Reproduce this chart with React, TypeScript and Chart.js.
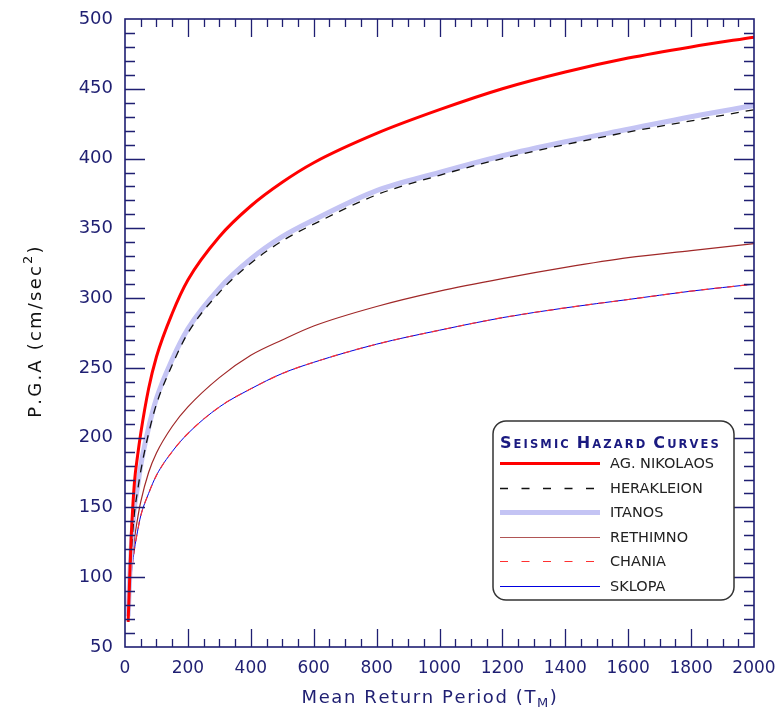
import React, { useEffect, useRef } from "react";
import { Chart, registerables } from "chart.js";

Chart.register(...registerables);

// ---- data ----
const returnPeriods = [10, 15, 20, 30, 40, 50, 75, 100, 150, 200, 300, 400, 500, 600, 800, 1000, 1200, 1400, 1600, 1800, 2000];
const agNikolaos = [68, 100, 130, 168, 187, 203, 235, 258, 289, 313, 344, 366, 383, 397, 418, 435, 450, 462, 472, 480, 487];
const herakleion = [68, 95, 118, 146, 162, 176, 203, 224, 252, 275, 304, 325, 341, 353, 374, 388, 400, 410, 419, 427, 435];
const itanos = [72, 100, 122, 150, 165, 180, 207, 228, 256, 278, 307, 328, 344, 356, 377, 390, 402, 412, 421, 430, 438];
const rethimno = [70, 90, 105, 127, 142, 154, 175, 189, 208, 222, 243, 259, 270, 280, 294, 305, 314, 322, 329, 334, 339];
const chania = [70, 88, 102, 120, 133, 144, 160, 173, 190, 203, 222, 235, 246, 254, 267, 277, 286, 293, 299, 305, 310];
const sklopa = [70, 88, 102, 120, 133, 144, 160, 173, 190, 203, 222, 235, 246, 254, 267, 277, 286, 293, 299, 305, 310];

const seriesNames = ["AG. NIKOLAOS", "HERAKLEION", "ITANOS", "RETHIMNO", "CHANIA", "SKLOPA"];
const legendTitle = "SEISMIC HAZARD CURVES";
const xTitle = "Mean Return Period (T";
const xTitleSub = "M";
const yTitle = "P.G.A (cm/sec";
const yTitleSup = "2";

const xMin = 0, xMax = 2000, xMajor = 200, xMinor = 50;
const yMin = 50, yMax = 500, yMajor = 50, yMinor = 10;

const NAVY = "#1f1f72";

const pts = (vals: number[]) => vals.map((v, i) => ({ x: returnPeriods[i], y: v }));

function spacedWidth(ctx: CanvasRenderingContext2D, text: string, sp: number) {
  let w = 0;
  for (const ch of text) w += ctx.measureText(ch).width + sp;
  return w;
}
function drawSpaced(ctx: CanvasRenderingContext2D, text: string, x: number, y: number, sp: number) {
  let cx = x;
  for (const ch of text) {
    ctx.fillText(ch, cx, y);
    cx += ctx.measureText(ch).width + sp;
  }
  return cx - x;
}

const framePlugin = {
  id: "frameTicks",
  afterDatasetsDraw(chart: any) {
    const { ctx, chartArea, scales } = chart;
    const { left, right, top, bottom } = chartArea;
    const x = scales.x, y = scales.y;
    ctx.save();
    ctx.strokeStyle = NAVY;
    ctx.lineWidth = 1.6;
    ctx.strokeRect(left, top, right - left, bottom - top);
    ctx.lineWidth = 1.3;
    ctx.beginPath();
    for (let v = xMin + xMinor; v < xMax; v += xMinor) {
      const px = Math.round(x.getPixelForValue(v)) + 0.5;
      const len = v % xMajor === 0 ? 18 : 8;
      ctx.moveTo(px, bottom); ctx.lineTo(px, bottom - len);
      ctx.moveTo(px, top); ctx.lineTo(px, top + len);
    }
    for (let v = yMin + yMinor; v < yMax; v += yMinor) {
      const py = Math.round(y.getPixelForValue(v)) + 0.5;
      const len = v % yMajor === 0 ? 20 : 10;
      ctx.moveTo(left, py); ctx.lineTo(left + len, py);
      ctx.moveTo(right, py); ctx.lineTo(right - len, py);
    }
    ctx.stroke();

    // x title
    ctx.fillStyle = NAVY;
    ctx.textBaseline = "alphabetic";
    ctx.textAlign = "left";
    const sp = 1.6;
    ctx.font = "18px 'DejaVu Sans'";
    const mainW = spacedWidth(ctx, xTitle, sp);
    const parW = spacedWidth(ctx, ")", sp);
    ctx.font = "13px 'DejaVu Sans'";
    const subW = spacedWidth(ctx, xTitleSub, sp);
    const total = mainW + subW + parW;
    let tx = 430 - total / 2;
    const ty = 703;
    ctx.font = "18px 'DejaVu Sans'";
    tx += drawSpaced(ctx, xTitle, tx, ty, sp);
    ctx.font = "13px 'DejaVu Sans'";
    tx += drawSpaced(ctx, xTitleSub, tx, ty + 4, sp);
    ctx.font = "18px 'DejaVu Sans'";
    drawSpaced(ctx, ")", tx, ty, sp);

    // y title
    ctx.save();
    ctx.translate(41, 331);
    ctx.rotate(-Math.PI / 2);
    ctx.fillStyle = "#111";
    const ysp = 2.2;
    ctx.font = "18px 'DejaVu Sans'";
    const yw = spacedWidth(ctx, yTitle, ysp);
    const pw = spacedWidth(ctx, ")", ysp);
    ctx.font = "13px 'DejaVu Sans'";
    const sw = spacedWidth(ctx, yTitleSup, ysp);
    let ly = -(yw + sw + pw) / 2;
    ctx.font = "18px 'DejaVu Sans'";
    ly += drawSpaced(ctx, yTitle, ly, 0, ysp);
    ctx.font = "13px 'DejaVu Sans'";
    ly += drawSpaced(ctx, yTitleSup, ly, -9, ysp);
    ctx.font = "18px 'DejaVu Sans'";
    drawSpaced(ctx, ")", ly, 0, ysp);
    ctx.restore();
    ctx.restore();
  },
};

const legendPlugin = {
  id: "hazardLegend",
  afterDraw(chart: any) {
    const ctx = chart.ctx;
    ctx.save();
    const bx = 493, by = 421, bw = 241, bh = 179, r = 13;
    ctx.beginPath();
    ctx.moveTo(bx + r, by);
    ctx.arcTo(bx + bw, by, bx + bw, by + bh, r);
    ctx.arcTo(bx + bw, by + bh, bx, by + bh, r);
    ctx.arcTo(bx, by + bh, bx, by, r);
    ctx.arcTo(bx, by, bx + bw, by, r);
    ctx.closePath();
    ctx.fillStyle = "#ffffff";
    ctx.fill();
    ctx.strokeStyle = "#333333";
    ctx.lineWidth = 1.5;
    ctx.stroke();

    // title with small caps
    ctx.fillStyle = "#1a1a80";
    ctx.textBaseline = "alphabetic";
    ctx.textAlign = "left";
    let tx = 500;
    const ty = 448;
    const words = legendTitle.split(" ");
    words.forEach((w, wi) => {
      for (let k = 0; k < w.length; k++) {
        const big = k === 0;
        ctx.font = big ? "bold 16px 'DejaVu Sans'" : "bold 11.5px 'DejaVu Sans'";
        ctx.fillText(w[k], tx, ty);
        tx += ctx.measureText(w[k]).width + 2.1;
      }
      if (wi < words.length - 1) tx += 6;
    });

    // entries
    chart.data.datasets.forEach((ds: any, i: number) => {
      const yy = Math.round(463 + i * 24.6) + 0.5;
      ctx.beginPath();
      ctx.strokeStyle = ds.legendColor || ds.borderColor;
      ctx.lineWidth = ds.borderWidth;
      ctx.setLineDash(ds.borderDash && ds.borderDash.length ? [8, 13.5] : []);
      ctx.moveTo(500, yy);
      ctx.lineTo(600, yy);
      ctx.stroke();
      ctx.setLineDash([]);
      ctx.fillStyle = "#222";
      ctx.font = "14.5px 'DejaVu Sans'";
      ctx.textBaseline = "middle";
      ctx.fillText(ds.label, 610, yy + 1);
    });
    ctx.restore();
  },
};

export default function App() {
  const ref = useRef<HTMLCanvasElement | null>(null);
  useEffect(() => {
    document.body.style.margin = "0";
    const canvas = ref.current;
    if (!canvas) return;
    const styles = [
      { color: "#ff0000", width: 3, dash: [] as number[] },
      { color: "#111111", width: 1.3, dash: [8, 7] },
      { color: "#c4c4f4", width: 5, dash: [] },
      { color: "#a02828", width: 1.2, dash: [], legendColor: "#b05555" },
      { color: "#ff3030", width: 1.2, dash: [7, 6] },
      { color: "#0000e0", width: 1, dash: [] },
    ];
    const values = [agNikolaos, herakleion, itanos, rethimno, chania, sklopa];
    const chart = new Chart(canvas, {
      type: "line",
      data: {
        datasets: values.map((vals, i) => ({
          label: seriesNames[i],
          data: pts(vals),
          borderColor: styles[i].color,
          borderWidth: styles[i].width,
          borderDash: styles[i].dash,
          legendColor: (styles[i] as any).legendColor,
          pointRadius: 0,
          fill: false,
          cubicInterpolationMode: "monotone",
        })) as any,
      },
      options: {
        responsive: false,
        animation: false,
        devicePixelRatio: 1,
        layout: { padding: { left: 0, right: 23, top: 19, bottom: 0 } },
        plugins: { legend: { display: false }, tooltip: { enabled: false } },
        scales: {
          x: {
            type: "linear",
            min: xMin,
            max: xMax,
            grid: { display: false, drawTicks: false },
            border: { display: false },
            ticks: {
              stepSize: xMajor,
              color: NAVY,
              font: { family: "'DejaVu Sans'", size: 17 },
              padding: 11,
              maxRotation: 0,
              callback: (v: any) => String(v),
            },
            afterFit: (s: any) => {
              s.height = 65;
              s.paddingLeft = 0;
              s.paddingRight = 0;
            },
          },
          y: {
            type: "linear",
            min: yMin,
            max: yMax,
            grid: { display: false, drawTicks: false },
            border: { display: false },
            ticks: {
              stepSize: yMajor,
              color: NAVY,
              font: { family: "'DejaVu Sans'", size: 18 },
              padding: 12,
              callback: (v: any) => String(v),
            },
            afterFit: (s: any) => {
              s.width = 125;
              s.paddingTop = 0;
              s.paddingBottom = 0;
            },
          },
        },
      } as any,
      plugins: [framePlugin, legendPlugin],
    });
    return () => chart.destroy();
  }, []);
  return <canvas ref={ref} width={777} height={712} style={{ display: "block" }} />;
}
